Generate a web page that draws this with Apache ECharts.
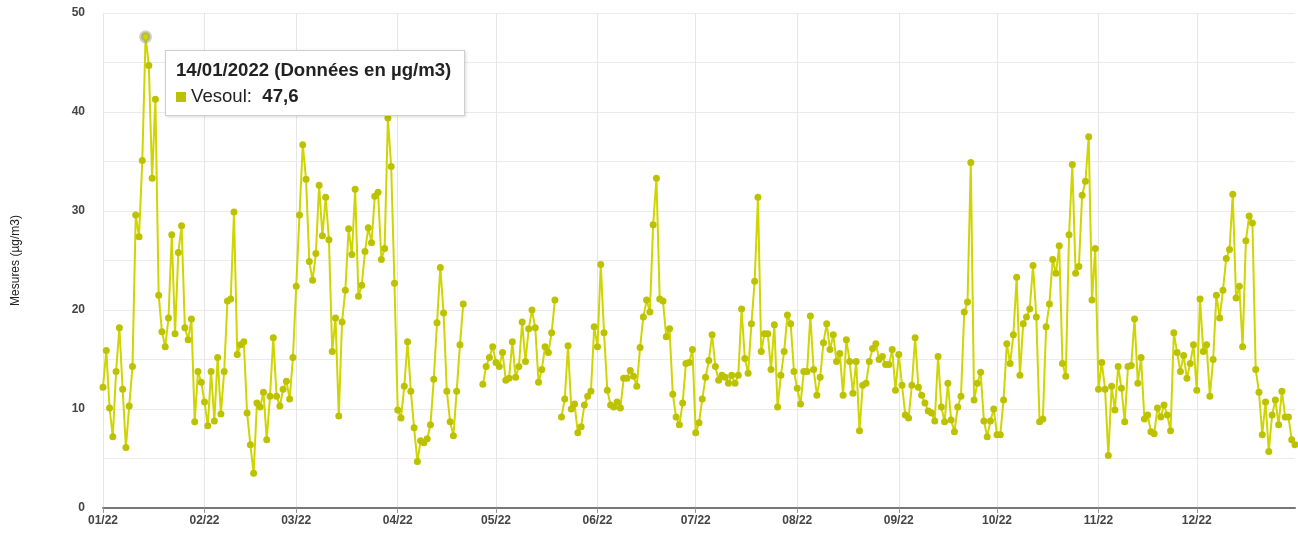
<!DOCTYPE html>
<html>
<head>
<meta charset="utf-8">
<script src="https://cdn.jsdelivr.net/npm/echarts@6/dist/echarts.min.js"></script>
<style>
  html, body { margin: 0; padding: 0; background: #fff; }
  #chart { width: 1298px; height: 538px; }
</style>
</head>
<body>
<div id="chart"></div>
<script>
// Daily readings, Vesoul 2022 (µg/m3), one array per month; null = no data
const jan = [12.2, 15.9, 10.1, 7.2, 13.8, 18.2, 12.0, 6.1, 10.3, 14.3, 29.6, 27.4, 35.1, 47.6, 44.7, 33.3,
  41.3, 21.5, 17.8, 16.3, 19.2, 27.6, 17.6, 25.8, 28.5, 18.2, 17.0, 19.1, 8.7, 13.8, 12.7];
const feb = [10.7, 8.3, 13.8, 8.8, 15.2, 9.5, 13.8, 20.9, 21.1, 29.9, 15.5, 16.5, 16.8, 9.6, 6.4, 3.5,
  10.6, 10.2, 11.7, 6.9, 11.3, 17.2, 11.3, 10.3, 12.0, 12.8, 11.0, 15.2];
const mar = [22.4, 29.6, 36.7, 33.2, 24.9, 23.0, 25.7, 32.6, 27.5, 31.4, 27.1, 15.8, 19.2, 9.3, 18.8, 22.0,
  28.2, 25.6, 32.2, 21.4, 22.5, 25.9, 28.3, 26.8, 31.5, 31.9, 25.1, 26.2, 39.4, 34.5, 22.7];
const apr = [9.9, 9.1, 12.3, 16.8, 11.8, 8.1, 4.7, 6.8, 6.6, 7.0, 8.4, 13.0, 18.7, 24.3, 19.7, 11.8,
  8.7, 7.3, 11.8, 16.5, 20.6, null, null, null, null, null, 12.5, 14.3, 15.2, 16.3];
const may = [14.7, 14.3, 15.7, 12.9, 13.1, 16.8, 13.2, 14.3, 18.8, 14.8, 18.1, 20.0, 18.2, 12.7, 14.0, 16.3,
  15.7, 17.7, 21.0, null, 9.2, 11.0, 16.4, 10.0, 10.5, 7.6, 8.2, 10.4, 11.3, 11.8, 18.3];
const jun = [16.3, 24.6, 17.7, 11.9, 10.4, 10.2, 10.7, 10.1, 13.1, 13.1, 13.9, 13.3, 12.3, 16.2, 19.3, 21.0,
  19.8, 28.6, 33.3, 21.1, 20.9, 17.3, 18.1, 11.5, 9.2, 8.4, 10.6, 14.6, 14.7, 16.0];
const jul = [7.6, 8.6, 11.0, 13.2, 14.9, 17.5, 14.3, 12.9, 13.4, 13.2, 12.6, 13.4, 12.6, 13.4, 20.1, 15.1,
  13.6, 18.6, 22.9, 31.4, 15.8, 17.6, 17.6, 14.0, 18.5, 10.2, 13.4, 15.8, 19.5, 18.6, 13.8];
const aug = [12.1, 10.5, 13.8, 13.8, 19.4, 14.0, 11.4, 13.2, 16.7, 18.6, 16.0, 17.5, 14.8, 15.6, 11.4, 17.0,
  14.8, 11.6, 14.8, 7.8, 12.4, 12.6, 14.8, 16.1, 16.6, 15.0, 15.3, 14.5, 14.5, 16.0, 11.9];
const sep = [15.5, 12.4, 9.4, 9.1, 12.4, 17.2, 12.2, 11.4, 10.6, 9.8, 9.6, 8.8, 15.3, 10.2, 8.7, 12.6,
  8.9, 7.7, 10.2, 11.3, 19.8, 20.8, 34.9, 10.9, 12.6, 13.7, 8.8, 7.2, 8.8, 10.0];
const oct = [7.4, 7.4, 10.9, 16.6, 14.6, 17.5, 23.3, 13.4, 18.6, 19.3, 20.1, 24.5, 19.3, 8.7, 9.0, 18.3,
  20.6, 25.1, 23.7, 26.5, 14.6, 13.3, 27.6, 34.7, 23.7, 24.4, 31.6, 33.0, 37.5, 21.0, 26.2];
const nov = [12.0, 14.7, 12.0, 5.3, 12.3, 9.9, 14.3, 12.1, 8.7, 14.3, 14.4, 19.1, 12.6, 15.2, 9.0, 9.4,
  7.7, 7.5, 10.1, 9.2, 10.4, 9.4, 7.8, 17.7, 15.7, 13.8, 15.4, 13.1, 14.6, 16.5];
const dec = [11.9, 21.1, 15.8, 16.5, 11.3, 15.0, 21.5, 19.2, 22.0, 25.2, 26.1, 31.7, 21.2, 22.4, 16.3, 27.0,
  29.5, 28.8, 14.0, 11.7, 7.4, 10.7, 5.7, 9.4, 10.9, 8.4, 11.8, 9.2, 9.2, 6.9, 6.4];

const months = [jan, feb, mar, apr, may, jun, jul, aug, sep, oct, nov, dec];
const yTicks = [0, 10, 20, 30, 40, 50];
const stationName = "Vesoul";
const hoverIndex = 13; // 14/01/2022

const dates = [];
const values = [];
months.forEach((m, mi) => {
  m.forEach((v, di) => {
    dates.push(String(di + 1).padStart(2, "0") + "/" + String(mi + 1).padStart(2, "0") + "/2022");
    values.push(v);
  });
});

const isMonthStart = (i) => dates[i].startsWith("01/");
const lineColor = "#bdc200";
const font = "'Liberation Sans', Arial, sans-serif";

const chart = echarts.init(document.getElementById("chart"));
chart.setOption({
  animation: false,
  textStyle: { fontFamily: font },
  grid: { left: 103, right: 3, top: 13, bottom: 30, outerBoundsMode: "none" },
  tooltip: {
    trigger: "item",
    alwaysShowContent: true,
    transitionDuration: 0,
    position: [165, 50],
    backgroundColor: "#fff",
    borderColor: "#cfcfcf",
    borderWidth: 1,
    padding: [6, 13, 6, 10],
    extraCssText: "box-shadow: 1px 1px 3px rgba(0,0,0,0.15); border-radius: 0;",
    formatter: (p) =>
      `<div style="font:bold 18.6px ${font};color:#222;line-height:26px">${p.name} (Données en µg/m3)</div>` +
      `<div style="font:18.6px ${font};color:#222;line-height:26px">` +
      `<span style="display:inline-block;width:10px;height:10px;background:${lineColor};margin-right:5px"></span>` +
      `${stationName}:&nbsp; <b>${String(p.value).replace(".", ",")}</b></div>`,
  },
  xAxis: {
    type: "category",
    data: dates,
    boundaryGap: false,
    axisLine: { lineStyle: { color: "#777", width: 2 } },
    axisTick: { interval: isMonthStart, length: 5, lineStyle: { color: "#999" } },
    axisLabel: {
      interval: isMonthStart,
      formatter: (v) => v.slice(3, 5) + "/" + v.slice(8, 10),
      color: "#444",
      fontWeight: "bold",
      fontSize: 12,
      margin: 7,
    },
    splitLine: { show: true, interval: isMonthStart, lineStyle: { color: "#e6e6e6" } },
  },
  yAxis: {
    type: "value",
    min: yTicks[0],
    max: yTicks[yTicks.length - 1],
    interval: 5,
    name: "Mesures (µg/m3)",
    nameLocation: "middle",
    nameRotate: 90,
    nameGap: 81,
    nameTextStyle: { color: "#222", fontSize: 12 },
    axisLine: { show: false },
    axisTick: { show: false },
    axisLabel: {
      formatter: (v) => (yTicks.includes(v) ? String(v) : ""),
      color: "#444",
      fontWeight: "bold",
      fontSize: 12,
      margin: 18,
    },
    splitLine: { lineStyle: { color: "#ebebeb" } },
  },
  series: [
    {
      type: "line",
      name: stationName,
      data: values,
      symbol: "circle",
      symbolSize: 7,
      showAllSymbol: true,
      lineStyle: { color: lineColor, width: 2 },
      itemStyle: { color: lineColor },
      emphasis: {
        scale: 1.3,
        itemStyle: { borderColor: "rgba(150,150,150,0.45)", borderWidth: 4 },
        lineStyle: { width: 2 },
      },
    },
  ],
});

chart.dispatchAction({ type: "highlight", seriesIndex: 0, dataIndex: hoverIndex });
chart.dispatchAction({ type: "showTip", seriesIndex: 0, dataIndex: hoverIndex });
</script>
</body>
</html>
